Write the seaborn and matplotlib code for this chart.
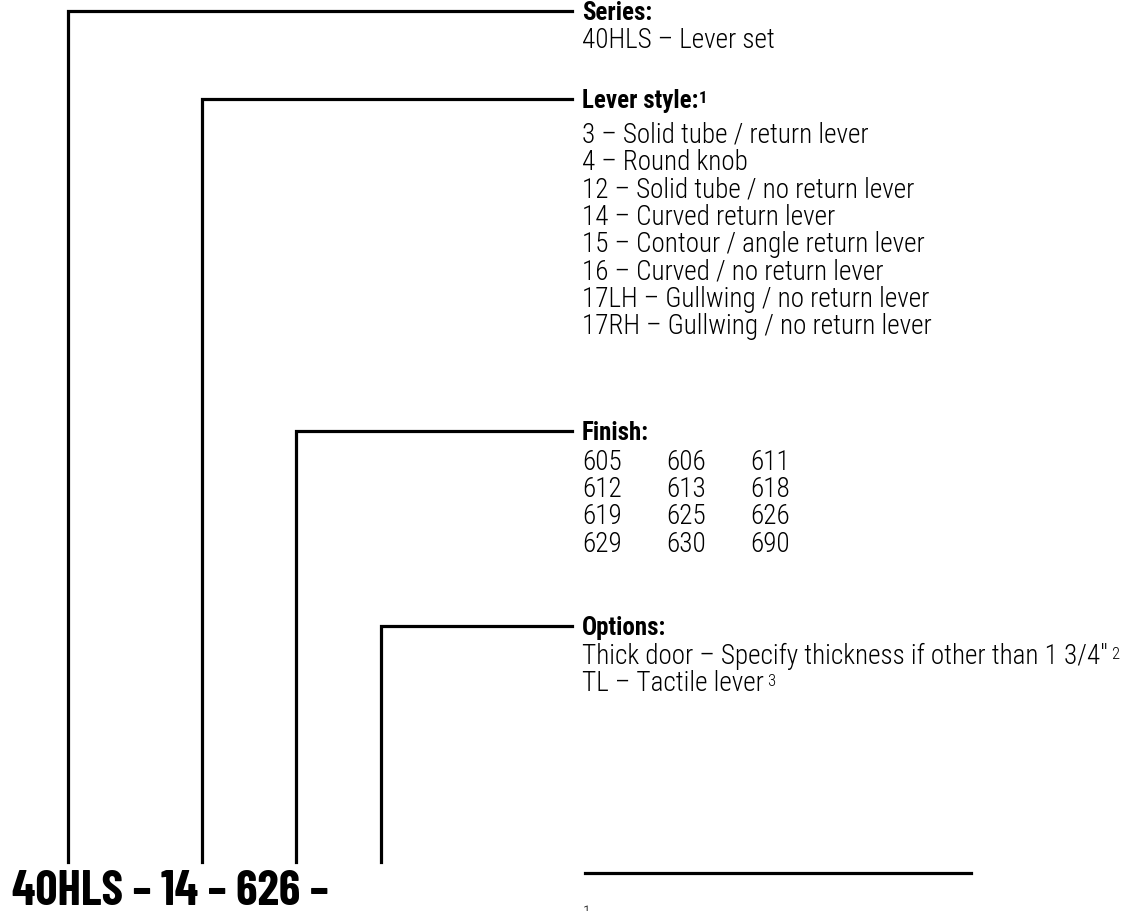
import matplotlib
matplotlib.use("Agg")
import matplotlib.pyplot as plt
import seaborn as sns
import pandas as pd

# contenu du diagramme
codigo_partes = ["40HLS", "14", "626", ""]
titulos = ["Series:", "Lever style:", "Finish:", "Options:"]
titulos_sup = ["", "1", "", ""]
serie_itens = ["40HLS – Lever set"]
alavanca_itens = [
    "3 – Solid tube / return lever",
    "4 – Round knob",
    "12 – Solid tube / no return lever",
    "14 – Curved return lever",
    "15 – Contour / angle return lever",
    "16 – Curved / no return lever",
    "17LH – Gullwing / no return lever",
    "17RH – Gullwing / no return lever",
]
acabamentos = [
    ["605", "606", "611"],
    ["612", "613", "618"],
    ["619", "625", "626"],
    ["629", "630", "690"],
]
opcoes_itens = ["Thick door – Specify thickness if other than 1 3/4″", "TL – Tactile lever"]
opcoes_sup = ["2", "3"]

# layout (pixels)
W, H = 1137, 911
x_linhas = [68, 202, 296, 381]
y_titulos = [11, 99, 431, 626]
x_fim = 572
x_texto = 582
y_base_linhas = 862
passo = 27.4
col_passo = 84
dy = 2

sns.set_theme(style="white")
plt.rcParams['font.family'] = ['Roboto Condensed', 'Barlow Condensed', 'DejaVu Sans']
plt.rcParams['text.color'] = 'black'

fig = plt.figure(figsize=(W / 100, H / 100), dpi=100)
ax = fig.add_axes([0, 0, 1, 1])

# linhas de chamada
segmentos = []
for i, (xl, yt) in enumerate(zip(x_linhas, y_titulos)):
    segmentos += [
        {'seg': i, 'x': xl, 'y': y_base_linhas},
        {'seg': i, 'x': xl, 'y': yt},
        {'seg': i, 'x': x_fim, 'y': yt},
    ]
segmentos += [
    {'seg': 9, 'x': 585, 'y': 873},
    {'seg': 9, 'x': 971, 'y': 873},
]
df = pd.DataFrame(segmentos)

sns.lineplot(
    data=df, x='x', y='y', units='seg', estimator=None, sort=False,
    color='black', linewidth=2.3, ax=ax, legend=False
)
for ln in ax.lines:
    ln.set_solid_joinstyle('miter')
    ln.set_solid_capstyle('projecting')

ax.set_xlim(0, W)
ax.set_ylim(H, 0)
ax.axis('off')

fs = 19.5
fs_tit = 18
peso = 'light'


def titulo(y, txt, sup):
    t = ax.text(x_texto, y + dy, txt, fontsize=fs_tit, fontweight='bold', va='center', ha='left')
    if sup:
        ax.annotate(sup, xy=(1, 0.9), xycoords=t, fontsize=12, fontweight='bold',
                    va='top', ha='left', xytext=(0.5, 0), textcoords='offset points')


# Series
titulo(y_titulos[0], titulos[0], titulos_sup[0])
for k, s in enumerate(serie_itens):
    ax.text(x_texto, y_titulos[0] + dy + 28 + k * passo, s, fontsize=fs, fontweight=peso, va='center')

# Lever style
titulo(y_titulos[1], titulos[1], titulos_sup[1])
for k, s in enumerate(alavanca_itens):
    ax.text(x_texto, y_titulos[1] + dy + 34 + k * passo, s, fontsize=fs, fontweight=peso, va='center')

# Finish
titulo(y_titulos[2], titulos[2], titulos_sup[2])
for r, linha in enumerate(acabamentos):
    for c, s in enumerate(linha):
        ax.text(x_texto + c * col_passo, y_titulos[2] + dy + 29 + r * passo, s,
                fontsize=fs, fontweight=peso, va='center')

# Options
titulo(y_titulos[3], titulos[3], titulos_sup[3])
for k, (s, sup) in enumerate(zip(opcoes_itens, opcoes_sup)):
    t = ax.text(x_texto, y_titulos[3] + dy + 28 + k * passo, s, fontsize=fs, fontweight=peso, va='center')
    ax.annotate(sup, xy=(1, 0.85), xycoords=t, fontsize=12, fontweight=peso,
                va='top', ha='left', xytext=(2, 0), textcoords='offset points')

# codigo do pedido
codigo = " – ".join(codigo_partes).rstrip()
ax.text(12, 905, codigo, fontsize=35, fontweight='bold', va='baseline', ha='left',
        family=['Barlow Condensed', 'Roboto Condensed', 'DejaVu Sans'])

# nota de rodape
ax.text(583, 905, "1", fontsize=11, fontweight=peso, va='top', ha='left')

fig.savefig("out.png", dpi=100)
plt.close(fig)
